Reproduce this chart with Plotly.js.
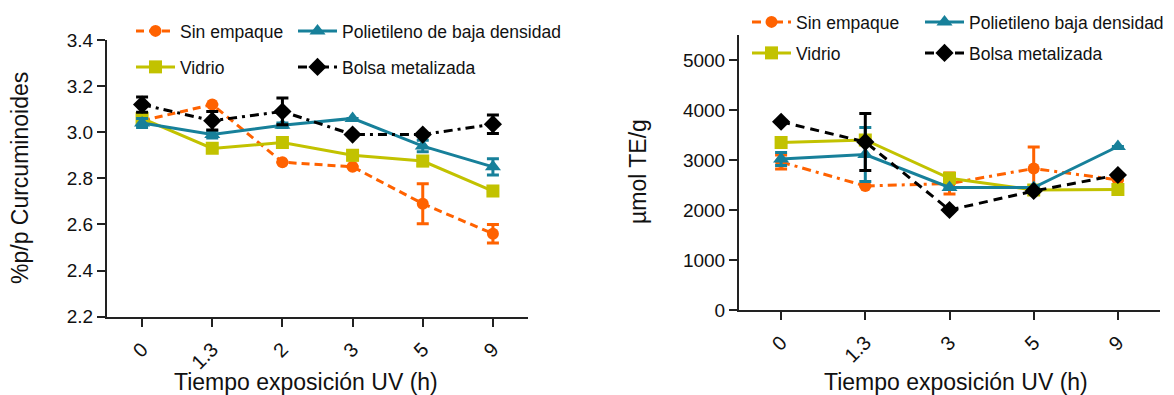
<!DOCTYPE html>
<html>
<head>
<meta charset="utf-8">
<script src="https://cdn.plot.ly/plotly-3.0.1.min.js"></script>
<style>html,body{margin:0;padding:0;background:#fff;}#chart{width:1174px;height:395px;}</style>
</head>
<body>
<div id="chart"></div>
<script>
// ---------- DATA ----------
var seriesNames = ['Sin empaque', 'Vidrio', 'Polietileno de baja densidad', 'Bolsa metalizada'];
var seriesNamesRight = ['Sin empaque', 'Vidrio', 'Polietileno baja densidad', 'Bolsa metalizada'];
var xTitle = 'Tiempo exposición UV (h)';
var yTitleLeft = '%p/p Curcuminoides';
var yTitleRight = 'µmol TE/g';

// Left chart: % p/p Curcuminoides
var timesLeft = ['0', '1.3', '2', '3', '5', '9'];
var sinEmpaqueL = [3.05, 3.12, 2.87, 2.85, 2.69, 2.56];
var sinEmpaqueLErr = [0.0, 0.0, 0.0, 0.0, 0.087, 0.04];
var vidrioL = [3.06, 2.93, 2.955, 2.90, 2.875, 2.745];
var vidrioLErr = [0.0, 0.0, 0.01, 0.02, 0.02, 0.0];
var polietilenoL = [3.04, 2.99, 3.03, 3.06, 2.94, 2.85];
var polietilenoLErr = [0.02, 0.015, 0.01, 0.0, 0.025, 0.035];
var bolsaL = [3.12, 3.05, 3.09, 2.99, 2.99, 3.035];
var bolsaLErr = [0.033, 0.04, 0.058, 0.0, 0.0, 0.04];

// Right chart: µmol TE/g
var timesRight = ['0', '1.3', '3', '5', '9'];
var sinEmpaqueR = [2960, 2480, 2530, 2830, 2600];
var sinEmpaqueRErr = [140, 0, 210, 430, 0];
var vidrioR = [3350, 3400, 2635, 2400, 2410];
var vidrioRErr = [0, 0, 0, 0, 0];
var polietilenoR = [3020, 3110, 2450, 2450, 3270];
var polietilenoRErr = [130, 540, 0, 0, 0];
var bolsaR = [3765, 3360, 2000, 2380, 2700];
var bolsaRErr = [0, 570, 0, 0, 0];

// ---------- STYLE ----------
var W = 1174, H = 395;
var FONT = 'Arial, "Liberation Sans", Helvetica, sans-serif';
var ORANGE = '#FF6200', YELLOW = '#C2C200', TEAL = '#17809A', BLACK = '#000000';

function trace(x, y, err, name, color, dash, symbol, msize, xa, ya, leg) {
  return {
    type: 'scatter', mode: 'lines+markers', x: x, y: y, name: name,
    xaxis: xa, yaxis: ya, legend: leg,
    line: {color: color, width: 3, dash: dash},
    marker: {color: color, symbol: symbol, size: msize},
    error_y: {type: 'data', array: err, visible: true, color: color, thickness: 3, width: 6}
  };
}

var data = [
  trace(timesLeft, sinEmpaqueL, sinEmpaqueLErr, seriesNames[0], ORANGE, '8px,5px', 'circle', 12, 'x', 'y', 'legend'),
  trace(timesLeft, vidrioL, vidrioLErr, seriesNames[1], YELLOW, 'solid', 'square', 13, 'x', 'y', 'legend3'),
  trace(timesLeft, polietilenoL, polietilenoLErr, seriesNames[2], TEAL, 'solid', 'triangle-up', 14, 'x', 'y', 'legend2'),
  trace(timesLeft, bolsaL, bolsaLErr, seriesNames[3], BLACK, '9px,5px,3px,5px', 'diamond', 14, 'x', 'y', 'legend4'),

  trace(timesRight, sinEmpaqueR, sinEmpaqueRErr, seriesNamesRight[0], ORANGE, '9px,5px,3px,5px', 'circle', 12, 'x2', 'y2', 'legend5'),
  trace(timesRight, vidrioR, vidrioRErr, seriesNamesRight[1], YELLOW, 'solid', 'square', 13, 'x2', 'y2', 'legend7'),
  trace(timesRight, polietilenoR, polietilenoRErr, seriesNamesRight[2], TEAL, 'solid', 'triangle-up', 14, 'x2', 'y2', 'legend6'),
  trace(timesRight, bolsaR, bolsaRErr, seriesNamesRight[3], BLACK, '9px,6px', 'diamond', 14, 'x2', 'y2', 'legend8')
];

function leg(xpx, ypx) {
  return {
    x: xpx / W, y: 1 - ypx / H, xanchor: 'left', yanchor: 'middle',
    bgcolor: 'rgba(0,0,0,0)', borderwidth: 0, itemwidth: 39,
    font: {family: FONT, size: 17.5, color: '#111'}
  };
}

function xaxis(domain, nCat, anchor) {
  return {
    domain: domain, anchor: anchor, type: 'category',
    range: [-0.5, nCat - 0.5], autorange: false,
    showline: true, linecolor: '#222', linewidth: 2, mirror: false,
    showgrid: false, zeroline: false,
    ticks: 'outside', ticklen: 8, tickwidth: 2, tickcolor: '#222',
    tickangle: -45, tickfont: {family: FONT, size: 20, color: '#111'},
    ticklabelstandoff: 3,
    automargin: false, fixedrange: true
  };
}

function yaxis(domain, anchor, range, tick0, dtick, fmt) {
  return {
    domain: domain, anchor: anchor,
    range: range, autorange: false, tick0: tick0, dtick: dtick, tickformat: fmt,
    showline: true, linecolor: '#222', linewidth: 2,
    showgrid: false, zeroline: false,
    ticks: 'outside', ticklen: 8, tickwidth: 2, tickcolor: '#222',
    tickfont: {family: FONT, size: 19, color: '#111'},
    automargin: false, fixedrange: true
  };
}

function title(text, xpx, ypx, angle) {
  return {
    text: text, xref: 'paper', yref: 'paper', x: xpx / W, y: 1 - ypx / H,
    xanchor: 'center', yanchor: 'middle', showarrow: false, textangle: angle,
    font: {family: FONT, size: 23, color: '#111'}
  };
}

var layout = {
  width: W, height: H,
  margin: {l: 0, r: 0, t: 0, b: 0},
  paper_bgcolor: '#fff', plot_bgcolor: 'rgba(0,0,0,0)',
  font: {family: FONT, color: '#111'},
  showlegend: true,
  xaxis: xaxis([107 / W, 528 / W], timesLeft.length, 'y'),
  yaxis: yaxis([(H - 316.7) / H, (H - 40) / H], 'x', [2.2, 3.4], 2.2, 0.2, '.1f'),
  xaxis2: xaxis([739 / W, 1160 / W], timesRight.length, 'y2'),
  yaxis2: yaxis([(H - 310) / H, (H - 35) / H], 'x2', [0, 5500], 0, 1000, ''),
  annotations: [
    title(xTitle, 305.5, 382, 0),
    title(xTitle, 956, 382, 0),
    title(yTitleLeft, 20, 178, -90),
    title(yTitleRight, 638, 172, -90)
  ],
  legend: leg(131, 31),
  legend2: leg(293, 31),
  legend3: leg(131, 67),
  legend4: leg(293, 67),
  legend5: leg(747, 22),
  legend6: leg(920, 22),
  legend7: leg(747, 53),
  legend8: leg(920, 53)
};

Plotly.newPlot('chart', data, layout, {displayModeBar: false, staticPlot: true});
</script>
</body>
</html>
